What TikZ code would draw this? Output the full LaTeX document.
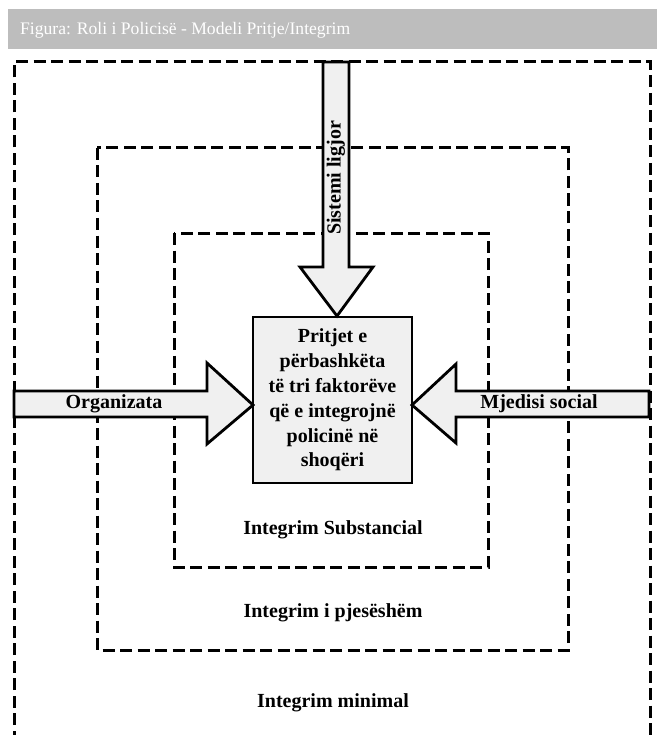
\documentclass[tikz,border=0pt]{standalone}
\usepackage{fontspec}
\setmainfont{Liberation Serif}
\begin{document}
\begin{tikzpicture}[x=1pt,y=-1pt,
  zone/.style={draw=black,line width=3pt,dash pattern=on 12pt off 5.5pt},
  blockarrow/.style={draw=black,line width=2.8pt,fill=arrowfill,line join=miter},
  lbl/.style={font=\bfseries\fontsize{20}{24}\selectfont,inner sep=0pt},
  core/.style={draw=black,line width=2.8pt,fill=arrowfill,minimum width=159pt,minimum height=166pt,align=center,
    font=\bfseries\fontsize{20}{24.8}\selectfont,inner sep=0pt}
]
\definecolor{arrowfill}{HTML}{F0F0F0}
\definecolor{titlegrey}{HTML}{BDBDBD}
\useasboundingbox (0,0) rectangle (657,735);
\begin{scope}
\clip (0,0) rectangle (657,735);
% title bar
\fill[titlegrey] (8,9) rectangle (657,49);
\node[anchor=west,text=white,font=\fontsize{17.6}{19}\selectfont,inner sep=0pt] (title) at (20,30) {Figura: Roli i Policisë - Modeli Pritje/Integrim};
% zones
\draw[zone] (14,760) -- (14,62) -- (650,62) -- (650,760);
\draw[zone] (97,148) rectangle (568,650);
\draw[zone] (174,233) rectangle (488,567);
% core box
\node[core] (core) at (332.5,400) {Pritjet e\\përbashkëta\\të tri faktorëve\\që e integrojnë\\policinë në\\shoqëri};
% arrows
\draw[blockarrow] (14,391) -- (207,391) -- (207,363) -- (253,405) -- (207,444) -- (207,417) -- (14,417) -- cycle;
\draw[blockarrow] (649,391) -- (456,391) -- (456,364) -- (412,405) -- (456,443) -- (456,417) -- (649,417) -- cycle;
\draw[blockarrow] (323,62) -- (349,62) -- (349,267) -- (373,267) -- (337,316) -- (300,267) -- (323,267) -- cycle;
\node[lbl] (org) at (114,404) {Organizata};
\node[lbl] (mjed) at (539,404) {Mjedisi social};
\node[lbl,rotate=90] (sist) at (336,178) {Sistemi ligjor};
\node[lbl] (subst) at (333,530) {Integrim Substancial};
\node[lbl] (pjes) at (333,613) {Integrim i pjesëshëm};
\node[lbl] (minim) at (333,703) {Integrim minimal};
\end{scope}
\end{tikzpicture}
\end{document}
